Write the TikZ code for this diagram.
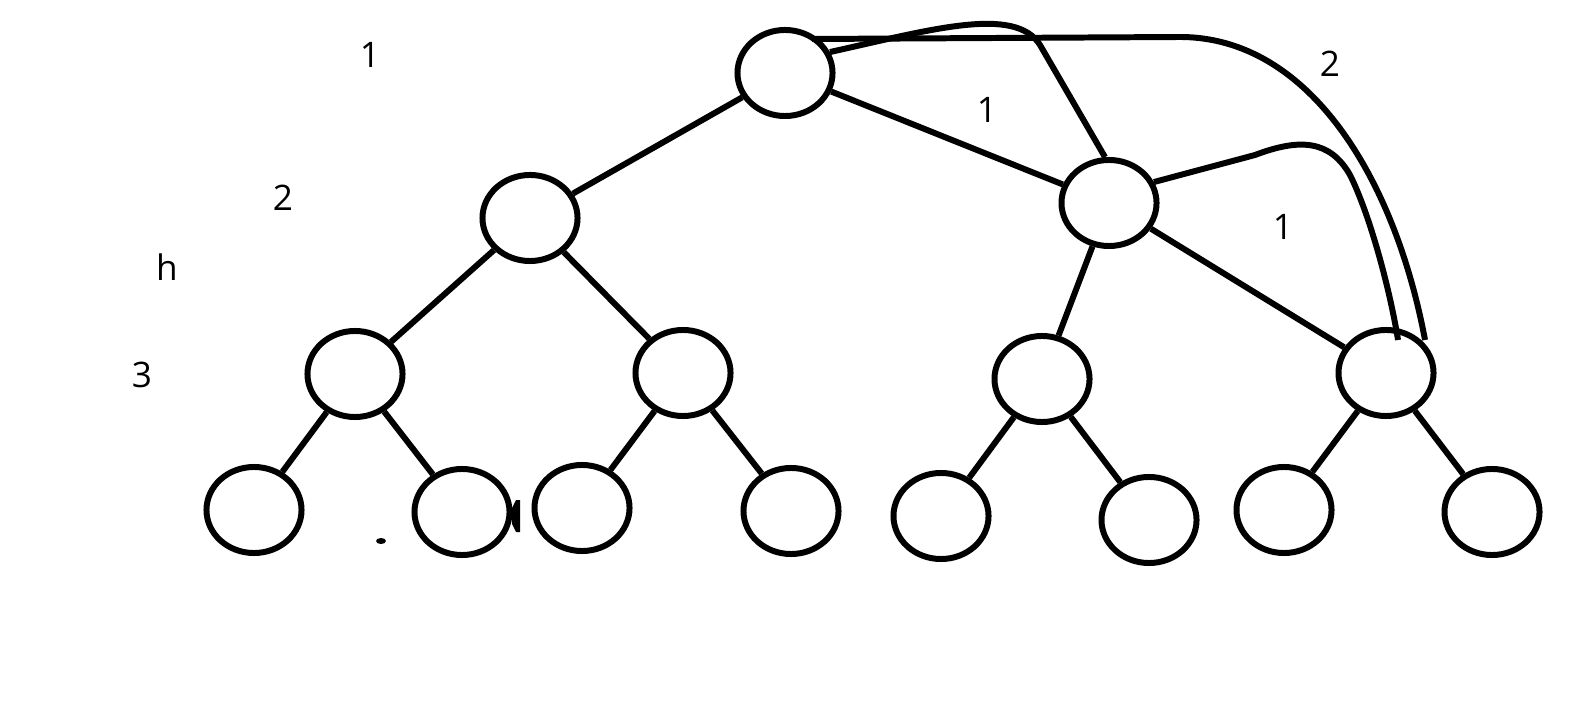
\documentclass[tikz,border=0pt]{standalone}
\usepackage{fontspec}
\setmainfont{Open Sans}
\usetikzlibrary{shapes.geometric}
\begin{document}
\begin{tikzpicture}[x=0.01cm,y=-0.01cm,
  vtx/.style={draw,ellipse,line width=1.7pt,minimum width=0.95cm,minimum height=0.86cm,inner sep=0pt},
  edge/.style={line width=1.7pt},
  lbl/.style={font=\fontsize{10}{12}\selectfont,inner sep=0pt}]
\useasboundingbox (0,0) rectangle (1592,710);
% nodes
\node[vtx] (r) at (785,73) {};
\node[vtx] (a) at (530,218) {};
\node[vtx] (b) at (1109,203) {};
\node[vtx] (c1) at (355,374) {};
\node[vtx] (c2) at (683,373) {};
\node[vtx] (c3) at (1042,379) {};
\node[vtx] (c4) at (1386,373) {};
\node[vtx] (d1) at (254,510) {};
\node[vtx] (d2) at (462,512) {};
\node[vtx] (d3) at (582,508) {};
\node[vtx] (d4) at (791,511) {};
\node[vtx] (d5) at (941,516) {};
\node[vtx] (d6) at (1149,520) {};
\node[vtx] (d7) at (1284,510) {};
\node[vtx] (d8) at (1492,512) {};
% tree edges
\draw[edge] (r) -- (a);
\draw[edge] (r) -- (b);
\draw[edge] (a) -- (c1);
\draw[edge] (a) -- (c2);
\draw[edge] (b) -- (c3);
\draw[edge] (b) -- (c4);
\draw[edge] (c1) -- (d1);
\draw[edge] (c1) -- (d2);
\draw[edge] (c2) -- (d3);
\draw[edge] (c2) -- (d4);
\draw[edge] (c3) -- (d5);
\draw[edge] (c3) -- (d6);
\draw[edge] (c4) -- (d7);
\draw[edge] (c4) -- (d8);
% curved edges
\coordinate (p1) at (1040,45);
\draw[edge] (r.25) .. controls (930,30) and (1015,5) .. (p1) -- (b.95);
\coordinate (q0) at (812,39);
\coordinate (q1) at (1180,37);
\coordinate (q2) at (1425,340);
\draw[edge] (q0) -- (q1) .. controls (1310,37) and (1395,180) .. (q2);
\coordinate (s1) at (1255,155);
\coordinate (s2) at (1350,175);
\coordinate (s3) at (1398,340);
\draw[edge] (b.25) -- (s1) .. controls (1300,138) and (1330,140) .. (s2)
   .. controls (1370,215) and (1390,290) .. (s3);
% labels
\node[lbl] (t1) at (370,55) {1};
\node[lbl] (t2) at (283,198) {2};
\node[lbl] (th) at (167,267) {h};
\node[lbl] (t3) at (142,375) {3};
\node[lbl] (u1) at (987,110) {1};
\node[lbl] (u2) at (1330,64) {2};
\node[lbl] (u3) at (1283,227) {1};
% stray marks
\fill (381,541) ellipse [x radius=5, y radius=3];
\fill (512,508) -- (516,500) -- (520,500) -- (520,532) -- (516,532) -- (512,524) -- cycle;
\end{tikzpicture}
\end{document}
